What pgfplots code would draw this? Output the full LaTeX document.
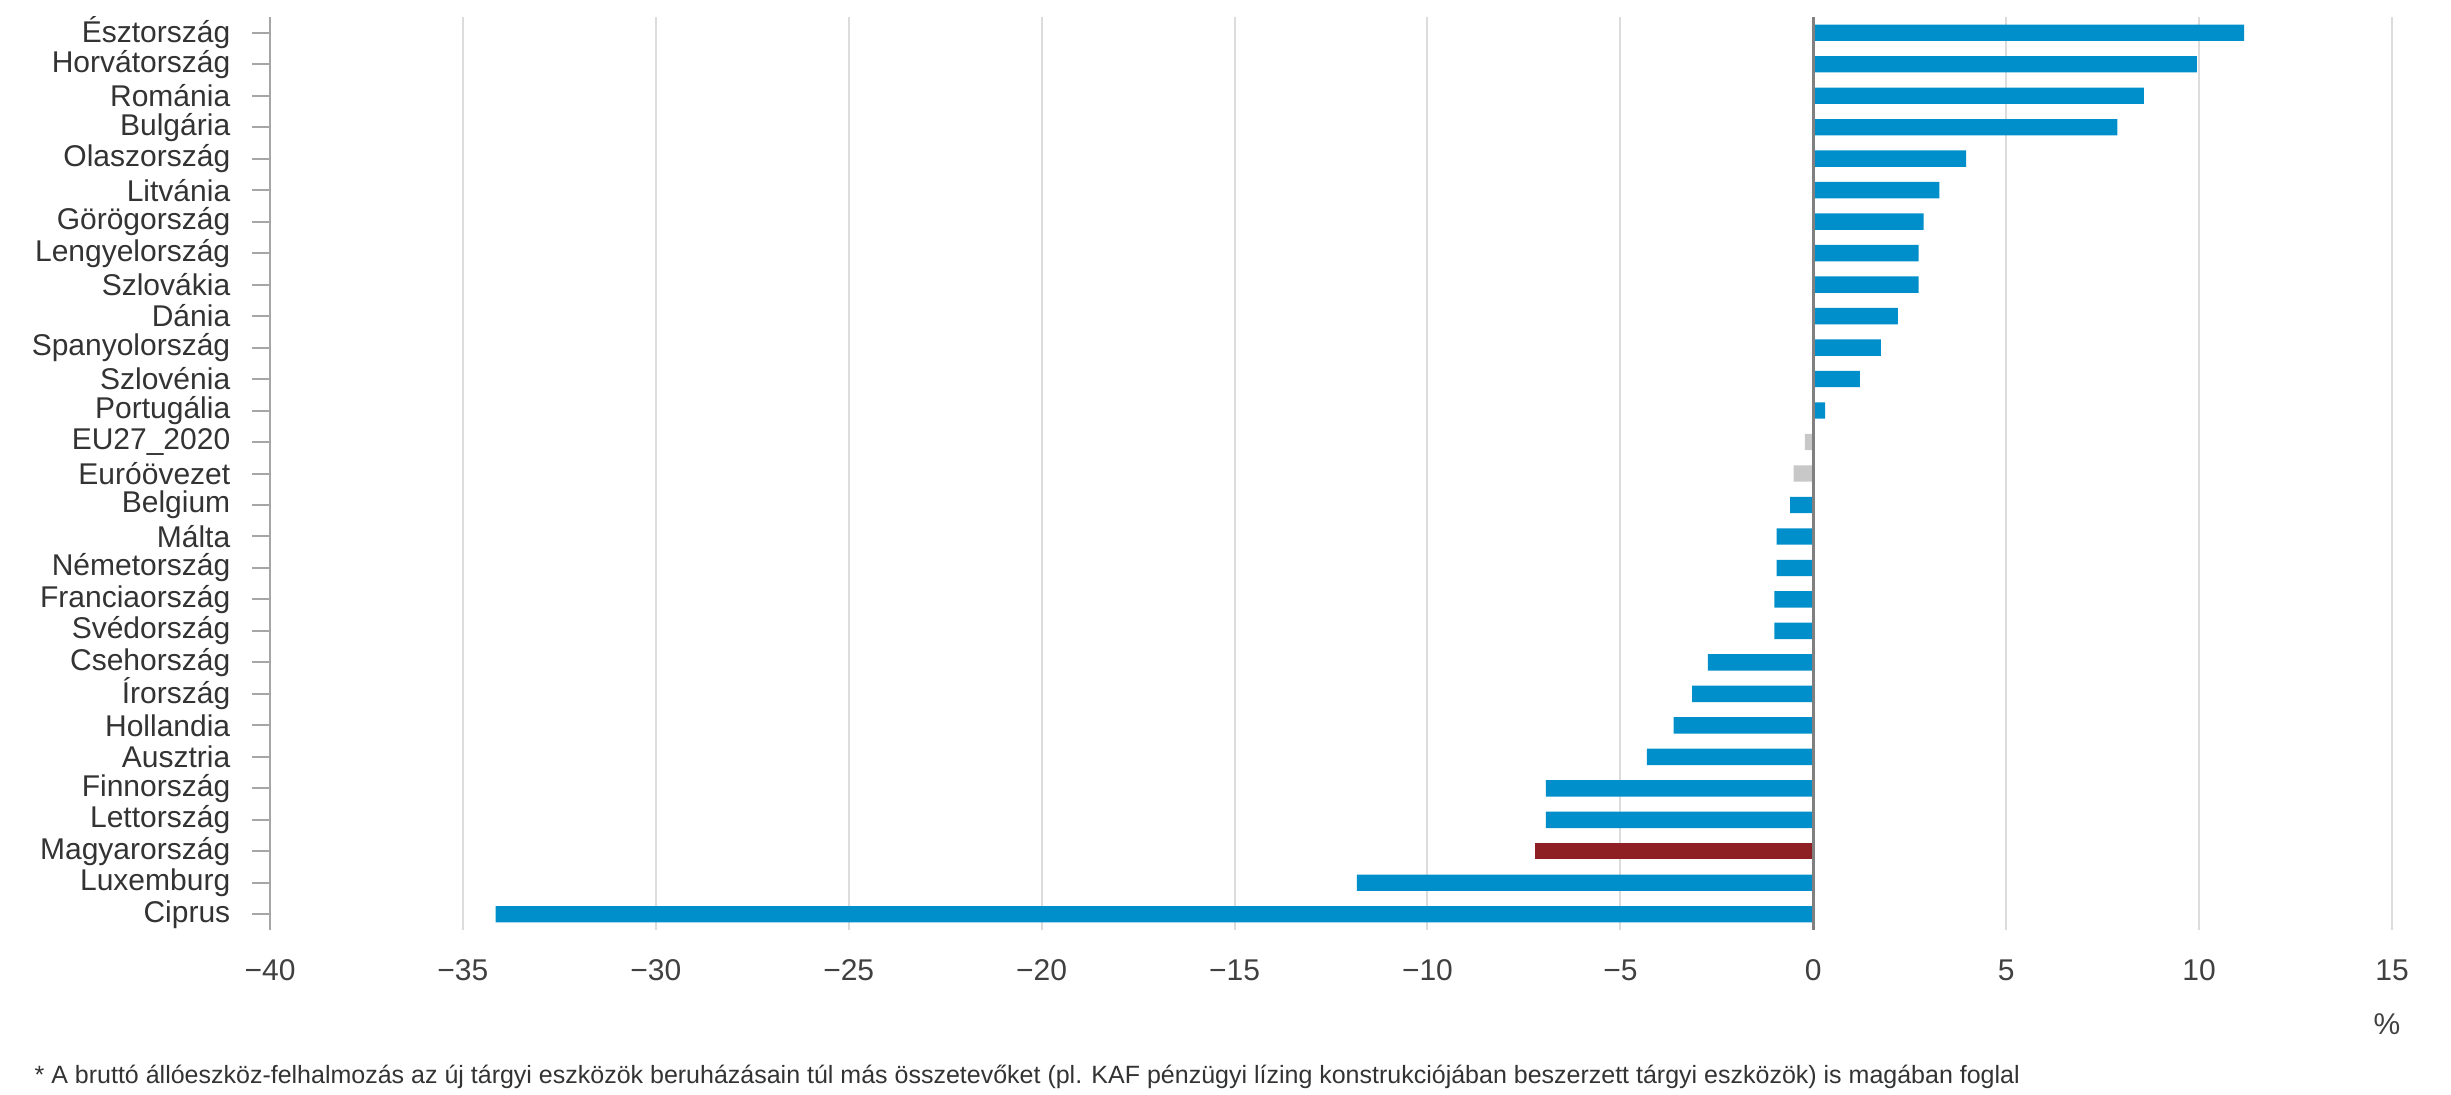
\documentclass[border=0pt]{standalone}
\usepackage{pgfplots}
\pgfplotsset{compat=1.18}
\usepackage{fontspec}
\setmainfont{Liberation Sans}
\definecolor{barblue}{HTML}{008FCB}
\definecolor{bargray}{HTML}{C8C8C8}
\definecolor{barred}{HTML}{8E2023}
\definecolor{gridgray}{HTML}{DCDCDC}
\definecolor{labgray}{HTML}{333333}
\begin{document}
\begin{tikzpicture}
\begin{axis}[
  at={(0,0)}, anchor=south west,
  scale only axis,
  width=636.6pt, height=273.9pt,
  xbar,
  xmin=-40, xmax=15,
  ymin=-0.5, ymax=28.5,
  y dir=reverse,
  bar width=0.52,
  axis line style={draw=none},
  xtick={-40,-35,...,15},
  xticklabels={−40,−35,−30,−25,−20,−15,−10,−5,0,5,10,15},
  ytick={0,...,28},
  yticklabels={Észtország,Horvátország,Románia,Bulgária,Olaszország,Litvánia,Görögország,Lengyelország,Szlovákia,Dánia,Spanyolország,Szlovénia,Portugália,EU27\_2020,Euróövezet,Belgium,Málta,Németország,Franciaország,Svédország,Csehország,Írország,Hollandia,Ausztria,Finnország,Lettország,Magyarország,Luxemburg,Ciprus},
  ytick pos=left,
  tick align=outside,
  major tick length=5.4pt,
  xtick style={draw=none},
  ytick style={draw=gray!70, line width=0.6pt},
  xmajorgrids,
  major grid style={draw=gridgray, line width=0.6pt},
  tick label style={font=\fontsize{9}{10.5}\selectfont, text=labgray},
  xticklabel style={anchor=center, yshift=-6.6pt, text=black!75},
  yticklabel style={xshift=-3.0pt},
  clip=false,
]
\addplot[fill=barblue, draw=none, bar shift=0pt] coordinates {
(11.17,0) (9.94,1) (8.57,2) (7.88,3) (3.96,4) (3.27,5) (2.86,6) (2.73,7) (2.73,8) (2.19,9) (1.75,10) (1.21,11) (0.31,12)
(-0.60,15) (-0.95,16) (-0.95,17) (-1.01,18) (-1.01,19) (-2.73,20) (-3.14,21) (-3.62,22) (-4.31,23) (-6.93,24) (-6.93,25)
(-11.83,27) (-34.15,28)
};
\addplot[fill=bargray, draw=none, bar shift=0pt] coordinates {(-0.22,13) (-0.51,14)};
\addplot[fill=barred, draw=none, bar shift=0pt] coordinates {(-7.22,26)};
\draw[gray!70, line width=0.6pt] (axis cs:-40,-0.5) -- (axis cs:-40,28.5);
\draw[black!50, line width=0.9pt] (axis cs:0,-0.5) -- (axis cs:0,28.5);
\end{axis}
\node[font=\fontsize{9}{10.5}\selectfont, text=black!75] at (635.1pt,-28.2pt) {\%};
\node[anchor=south west, inner sep=0pt, font=\fontsize{7.5}{8.5}\selectfont, text=black!80] at (-70.8pt,-48.9pt) {\strut * A bruttó állóeszköz-felhalmozás az új tárgyi eszközök beruházásain túl más összetevőket (pl. KAF pénzügyi lízing konstrukciójában beszerzett tárgyi eszközök) is magában foglal};
\pgfresetboundingbox
\path[use as bounding box] (-81pt,-49.5pt) rectangle (654.3pt,279pt);
\end{tikzpicture}
\end{document}
